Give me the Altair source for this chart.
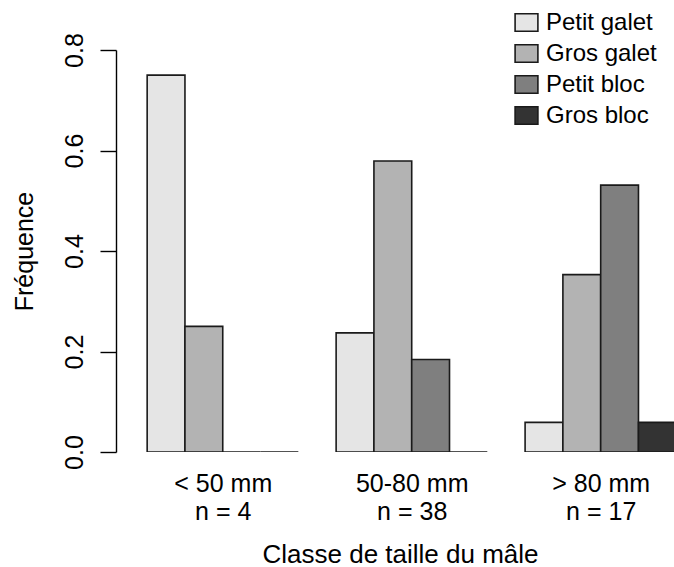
import altair as alt
import pandas as pd

groups = ["< 50 mm", "50-80 mm", "> 80 mm"]
group_n = ["n = 4", "n = 38", "n = 17"]
substrates = ["Petit galet", "Gros galet", "Petit bloc", "Gros bloc"]
colors = ["#E5E5E5", "#B3B3B3", "#7F7F7F", "#333333"]
freq = {
    "< 50 mm": [0.75, 0.25, 0.0, 0.0],
    "50-80 mm": [0.237, 0.579, 0.184, 0.0],
    "> 80 mm": [0.059, 0.353, 0.531, 0.059],
}
y_ticks = [0.0, 0.2, 0.4, 0.6, 0.8]

rows = []
for gi, g in enumerate(groups):
    for si, s in enumerate(substrates):
        left = gi * 5 + si + 1
        rows.append({"group": g, "substrate": s, "freq": freq[g][si],
                     "left": left, "right": left + 1})
df = pd.DataFrame(rows)

centers = [gi * 5 + 3 for gi in range(len(groups))]
label_expr = " : ".join(
    [f"datum.value == {c} ? ['{g}', '{n}']" for c, g, n in zip(centers, groups, group_n)]
) + " : ''"

FONT = "Liberation Sans"
AX = 25

bars = alt.Chart(df).mark_rect(stroke="#1a1a1a", strokeWidth=1.6, clip=True).encode(
    x=alt.X("left:Q",
            scale=alt.Scale(domain=[0.44, 14.94], nice=False, zero=False),
            axis=alt.Axis(values=centers, labelExpr=label_expr, domain=False, ticks=False,
                          grid=False, labelPadding=19, labelFontSize=AX, labelFont=FONT,
                          labelColor="#000000", labelLineHeight=28, labelBaseline="top",
                          title="Classe de taille du mâle", titleFont=FONT, titleFontSize=26,
                          titleFontWeight="normal", titleColor="#000000",
                          titleX=274, titleY=110, titleAlign="center",
                          titleBaseline="alphabetic")),
    x2="right:Q",
    y=alt.Y("freq:Q",
            scale=alt.Scale(domain=[0, 0.8], nice=False),
            axis=alt.Axis(values=y_ticks, format=".1f", offset=10, grid=False,
                          domainColor="#000000", domainWidth=1.4, tickColor="#000000",
                          tickWidth=1.4, tickSize=16, labelAngle=270, labelAlign="center",
                          labelBaseline="alphabetic", labelPadding=18, labelFontSize=AX,
                          labelFont=FONT, labelColor="#000000",
                          title="Fréquence", titleFont=FONT, titleFontSize=AX,
                          titleFontWeight="normal", titleColor="#000000", titleAngle=270,
                          titleX=-84, titleY=201, titleAlign="center",
                          titleBaseline="alphabetic")),
    y2=alt.datum(0),
    fill=alt.Fill("substrate:N",
                  scale=alt.Scale(domain=substrates, range=colors),
                  legend=alt.Legend(title=None, orient="none", legendX=388, legendY=-40,
                                    symbolType="M-1,-0.77H1V0.77H-1Z", symbolSize=520,
                                    symbolStrokeColor="#1a1a1a", symbolStrokeWidth=1.6,
                                    symbolOpacity=1, labelFont=FONT, labelFontSize=24,
                                    labelColor="#000000", labelOffset=7, rowPadding=6,
                                    labelLimit=300)),
)

chart = bars.properties(
    width=548,
    height=402,
    background="white",
    autosize=alt.AutoSizeParams(type="none"),
    padding={"left": 126, "top": 50, "right": 0, "bottom": 115},
).configure_view(strokeWidth=0, stroke="transparent")

chart.save("out.html", embed_options={"renderer": "svg", "actions": False})
